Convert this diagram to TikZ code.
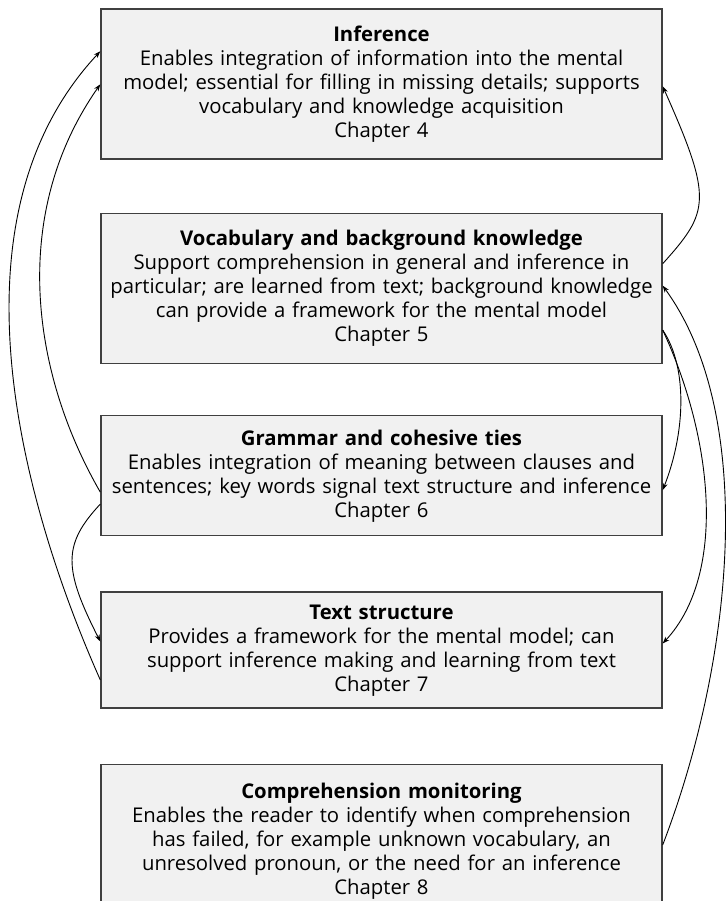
\documentclass[tikz,border=0pt]{standalone}
\usepackage{fontspec}
\setmainfont{Open Sans}
\usetikzlibrary{arrows.meta, positioning}
\definecolor{boxfill}{HTML}{F1F1F1}
\definecolor{boxline}{HTML}{404040}

\begin{document}
\begin{tikzpicture}[
    box/.style={rectangle, draw=boxline, fill=boxfill, line width=1.4pt, text width=559pt, inner xsep=1pt, inner ysep=0pt, align=center, font=\fontsize{20.3}{24}\selectfont},
    link/.style={-{Stealth[length=7pt, width=5pt]}, line width=0.9pt},
    node distance=53pt
]
\useasboundingbox (0,0) rectangle (726pt,901pt);

% Boxes
\node[box, minimum height=150pt] (infer) at (381.5pt, 817pt) {\textbf{Inference}\\Enables integration of information into the mental\\model; essential for filling in missing details; supports\\vocabulary and knowledge acquisition\\Chapter 4};
\node[box, minimum height=150pt, below=53pt of infer] (vocab) {\textbf{Vocabulary and background knowledge}\\Support comprehension in general and inference in\\particular; are learned from text; background knowledge\\can provide a framework for the mental model\\Chapter 5};
\node[box, minimum height=120pt, below=51pt of vocab] (gram) {\textbf{Grammar and cohesive ties}\\Enables integration of meaning between clauses and\\sentences; key words signal text structure and inference\\Chapter 6};
\node[box, minimum height=116pt, below=55pt of gram] (struct) {\textbf{Text structure}\\Provides a framework for the mental model; can\\support inference making and learning from text\\Chapter 7};
\node[box, minimum height=154pt, below=55pt of struct] (monit) {\textbf{Comprehension monitoring}\\Enables the reader to identify when comprehension\\has failed, for example unknown vocabulary, an\\unresolved pronoun, or the need for an inference\\Chapter 8};

% Left links
\draw[link] ([yshift=29pt]struct.south west) .. controls +(114:170pt) and +(227:240pt) .. ([yshift=-43pt]infer.north west);
\draw[link] ([yshift=-77pt]gram.north west) .. controls +(120:140pt) and +(235:157pt) .. ([yshift=-76pt]infer.north west);
\draw[link] ([yshift=-89pt]gram.north west) .. controls +(227:55pt) and +(117:82pt) .. ([yshift=-50pt]struct.north west);

% Right links
\draw[link] ([yshift=-51pt]vocab.north east) .. controls +(48:70pt) and +(-66:124pt) .. ([yshift=-78pt]infer.north east);
\draw[link] ([yshift=34pt]vocab.south east) .. controls +(-56:45pt) and +(68.5:62pt) .. ([yshift=-75pt]gram.north east);
\draw[link] ([yshift=34pt]vocab.south east) .. controls +(-65:120pt) and +(47:94pt) .. ([yshift=-52pt]struct.north east);
\draw[link] ([yshift=-81pt]monit.north east) .. controls +(69:200pt) and +(-54:160pt) .. ([yshift=-73pt]vocab.north east);

\end{tikzpicture}
\end{document}
